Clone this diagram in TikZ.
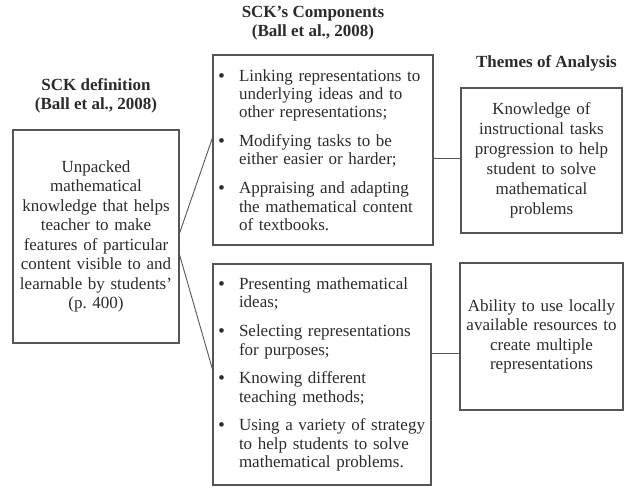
\documentclass[tikz,border=0pt]{standalone}
\usepackage{fontspec}
\setmainfont{Liberation Serif}
\usetikzlibrary{positioning}
\usetikzlibrary{calc}

\definecolor{linegray}{HTML}{555555}
\definecolor{inkgray}{HTML}{2B2B2B}

% one bullet of a component list, lines split by \newline
\newcommand{\sckitem}[1]{\hangindent=21pt\hangafter=1\noindent\makebox[21pt][l]{\hspace{0.5pt}\textbf{\textbullet}}#1\par}

\begin{document}
\begin{tikzpicture}[x=1pt,y=-1pt,
    box/.style={draw=linegray, line width=1.2pt, inner ysep=0pt, inner xsep=5pt, text=inkgray},
    listbox/.style={box, align=left, font=\fontsize{17}{18.3}\selectfont,
        execute at begin node=\setlength{\parskip}{10.5pt}},
    title/.style={font=\bfseries\fontsize{17}{19.5}\selectfont, align=center, inner sep=0pt, text=inkgray},
    link/.style={draw=linegray, line width=0.9pt}]
    \useasboundingbox (0,0) rectangle (625,488);

    % boxes
    \node[box, text width=156pt, minimum height=213pt, align=center,
        font=\fontsize{17}{19.5}\selectfont] (def) at (96,236.5)
        {Unpacked\\ mathematical\\ knowledge that helps\\ teacher to make\\
         features of particular\\ content visible to and\\ learnable by students'\\ (p.\ 400)};
    \node[listbox, text width=210pt, minimum height=190pt] (comp1) at (323,150) {%
        \sckitem{Linking representations to\newline underlying ideas and to\newline other representations;}
        \sckitem{Modifying tasks to be\newline either easier or harder;}
        \sckitem{Appraising and adapting\newline the mathematical content\newline of textbooks.}};
    \node[listbox, text width=208pt, minimum height=221pt] (comp2) at (322,374.5) {%
        \sckitem{Presenting mathematical\newline ideas;}
        \sckitem{Selecting representations\newline for purposes;}
        \sckitem{Knowing different\newline teaching methods;}
        \sckitem{Using a variety of strategy\newline to help students to solve\newline mathematical problems.}};
    \node[box, text width=151pt, minimum height=145pt, align=center,
        font=\fontsize{17}{20}\selectfont] (theme1) at (541.5,160.5)
        {Knowledge of\\ instructional tasks\\ progression to help\\ student to solve\\ mathematical\\ problems};
    \node[box, text width=153pt, minimum height=147pt, align=center,
        font=\fontsize{17}{19.3}\selectfont] (theme2) at (541.5,336.5)
        {Ability to use locally\\ available resources to\\ create multiple\\ representations};

    % headings
    \node[title] (deftitle) [above=16pt of def] {SCK definition\\(Ball et al., 2008)};
    \node[title] (comptitle) [above=14pt of comp1, xshift=-10pt] {SCK's Components\\(Ball et al., 2008)};
    \node[title] (themetitle) [above=16pt of theme1, xshift=5pt] {Themes of Analysis};

    % connectors
    \coordinate (t1in) at ([yshift=2.5pt]theme1.west);
    \coordinate (t2in) at ([yshift=-16.5pt]theme2.west);
    \path[link]
    ([yshift=3.5pt]def.east) edge ([yshift=12pt]comp1.west)
    ([yshift=-18.5pt]def.east) edge ([yshift=5.5pt]comp2.west)
    (t1in -| comp1.east) edge (t1in)
    (t2in -| comp2.east) edge (t2in);
\end{tikzpicture}
\end{document}
